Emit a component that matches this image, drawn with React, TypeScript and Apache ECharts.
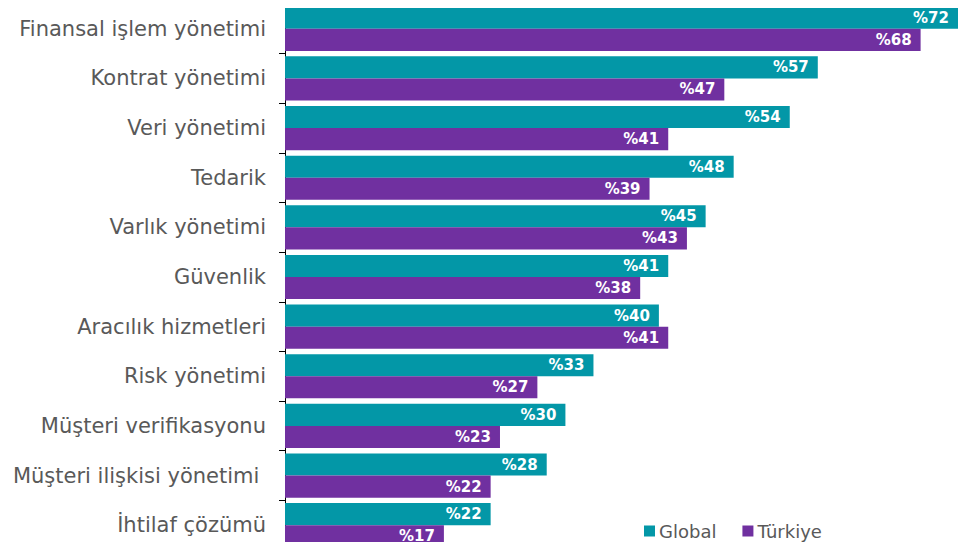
import React, { useEffect, useRef } from "react";
import * as echarts from "echarts";

const categories = [
  "Finansal işlem yönetimi",
  "Kontrat yönetimi",
  "Veri yönetimi",
  "Tedarik",
  "Varlık yönetimi",
  "Güvenlik",
  "Aracılık hizmetleri",
  "Risk yönetimi",
  "Müşteri verifikasyonu",
  "Müşteri ilişkisi yönetimi ",
  "İhtilaf çözümü",
];
const globalValues = [72, 57, 54, 48, 45, 41, 40, 33, 30, 28, 22];
const turkiyeValues = [68, 47, 41, 39, 43, 38, 41, 27, 23, 22, 17];
const seriesNames = ["Global", "Türkiye"];

const FONT = "'DejaVu Sans', Verdana, sans-serif";

export default function App() {
  const ref = useRef<HTMLDivElement>(null);
  useEffect(() => {
    if (!ref.current) return;
    const chart = echarts.init(ref.current, null, { renderer: "svg" });
    const label = {
      show: true,
      position: "insideRight" as const,
      formatter: (p: any) => "%" + p.value,
      color: "#ffffff",
      fontFamily: FONT,
      fontWeight: "bold" as const,
      fontSize: 15,
      distance: 9,
    };
    chart.setOption({
      animation: false,
      grid: { left: 285, right: 10, top: 4, bottom: 0, containLabel: false },
      legend: {
        left: 639,
        top: 517,
        padding: 5,
        itemWidth: 11,
        itemHeight: 11,
        itemGap: 26,
        icon: "rect",
        textStyle: { fontFamily: FONT, fontSize: 18, color: "#595959", padding: [0, 0, 0, -1] },
        data: seriesNames,
      },
      xAxis: {
        type: "value",
        min: 0,
        max: 72,
        show: false,
      },
      yAxis: {
        type: "category",
        data: categories,
        inverse: true,
        axisLine: { show: true, lineStyle: { color: "#000000", width: 1 } },
        axisTick: { show: true, length: 6, lineStyle: { color: "#000000" } },
        axisLabel: {
          fontFamily: FONT,
          fontSize: 21,
          color: "#595959",
          margin: 19,
        },
      },
      series: [
        {
          name: seriesNames[0],
          type: "bar",
          data: globalValues,
          itemStyle: { color: "#0397A7" },
          barGap: "0%",
          barCategoryGap: "11%",
          label,
        },
        {
          name: seriesNames[1],
          type: "bar",
          data: turkiyeValues,
          itemStyle: { color: "#7030A0" },
          barGap: "0%",
          barCategoryGap: "11%",
          label,
        },
      ],
    });
    return () => chart.dispose();
  }, []);
  return <div ref={ref} style={{ width: 968, height: 550, margin: -8 }} />;
}
